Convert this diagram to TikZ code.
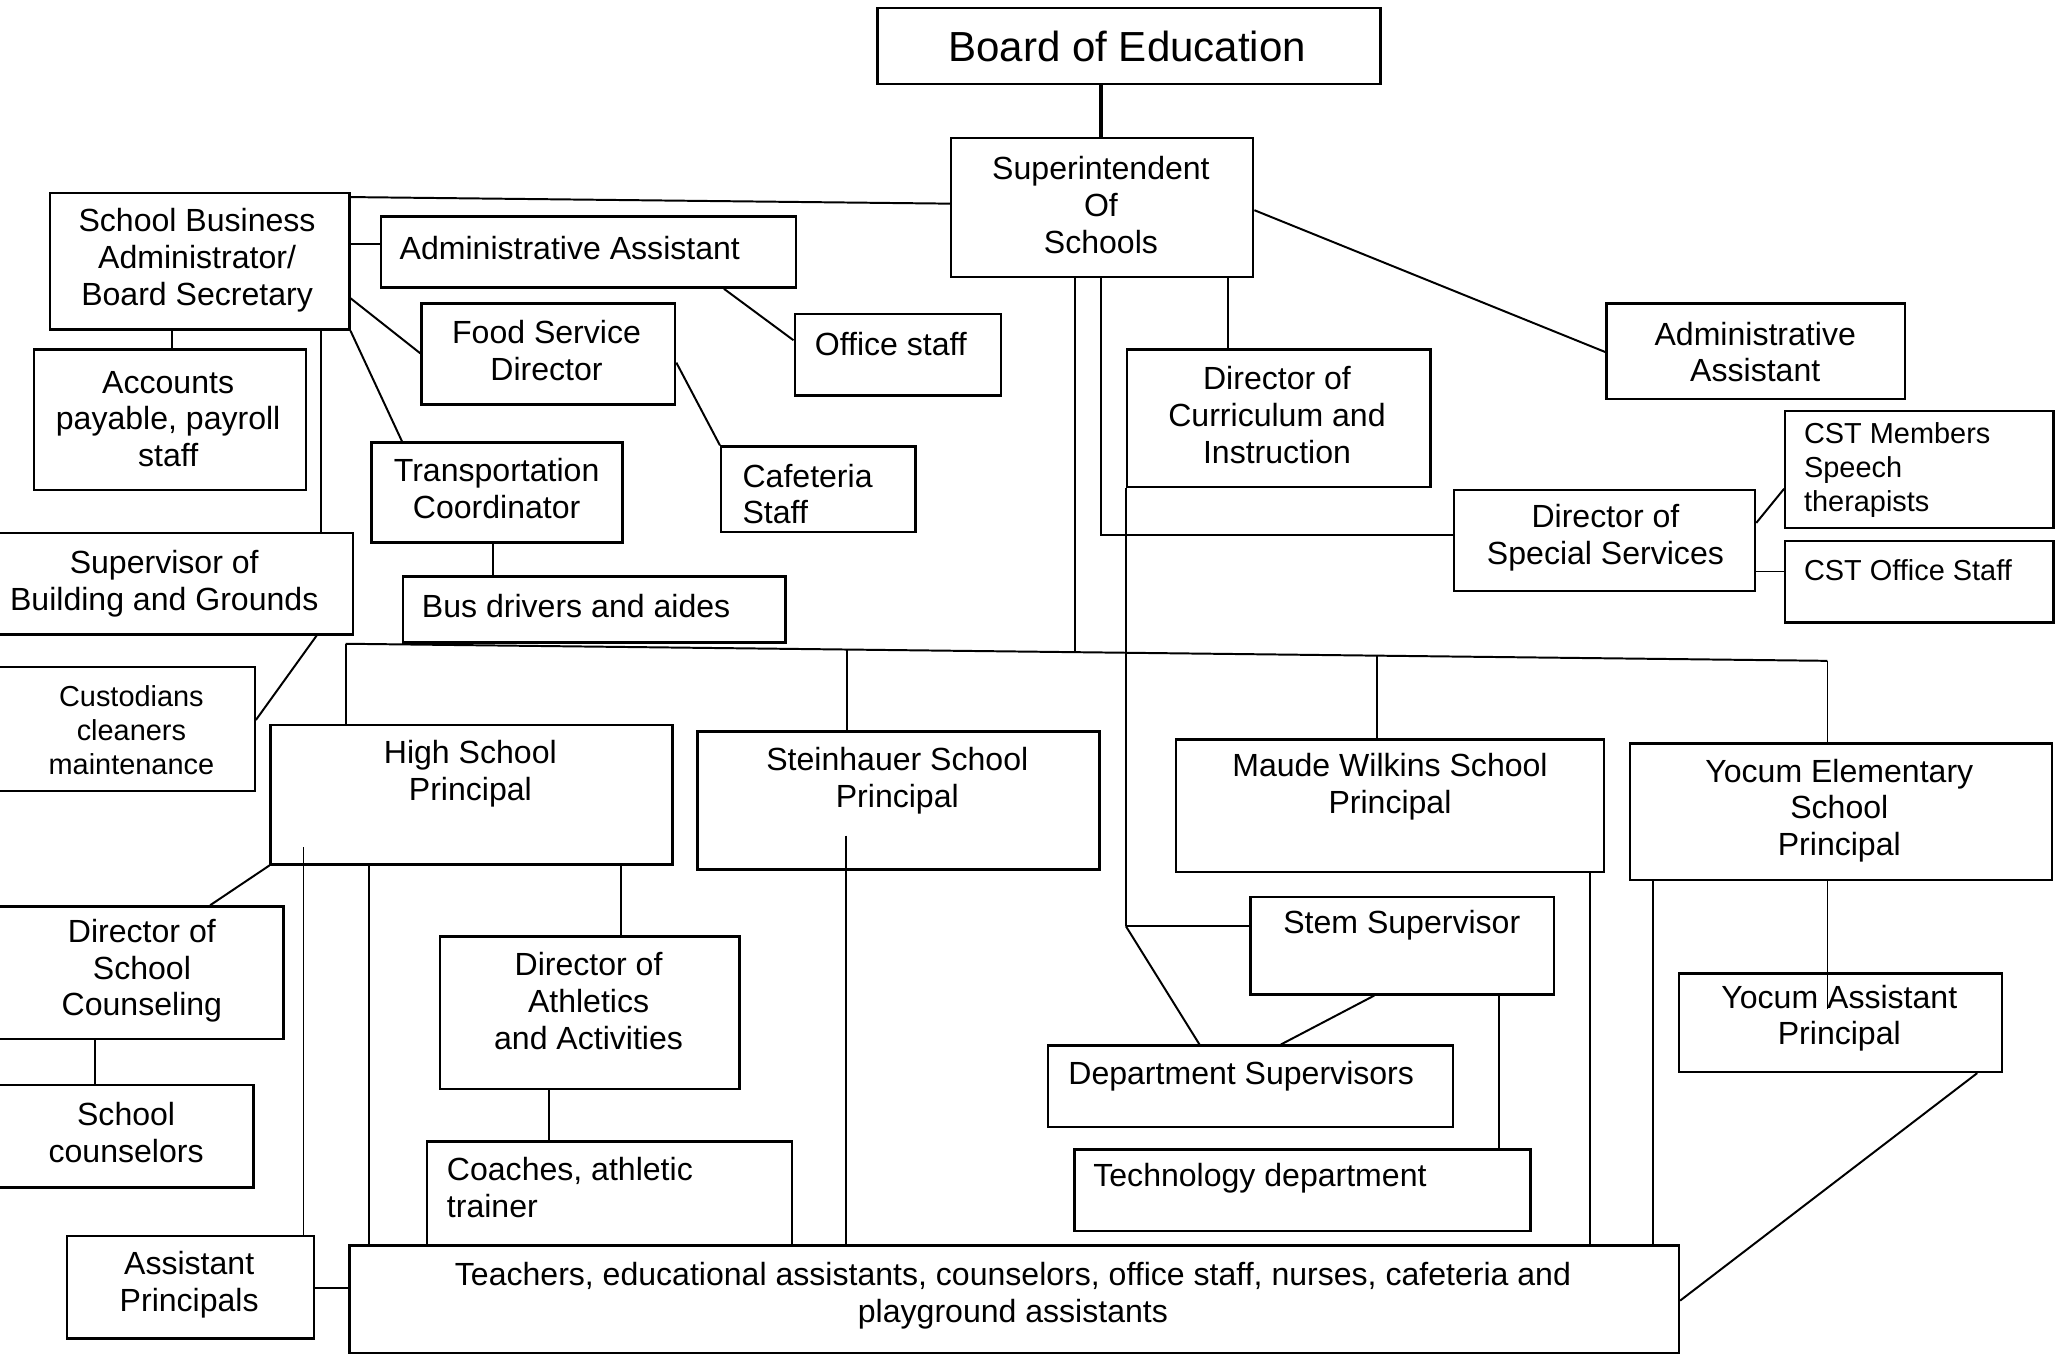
\documentclass[tikz,border=0pt]{standalone}
\usepackage{fontspec}
\setmainfont{Liberation Sans}
\newcommand\mybox[5]{\node[bx, minimum width={#4-(#2)}, minimum height={#5-(#3)}] (#1) at (#2,#3) {};}
\begin{document}
\begin{tikzpicture}[x=1pt,y=-1pt,
 bx/.style={draw=black, line width=1.8pt, inner sep=0pt, anchor=north west},
 tx/.style={inner sep=0pt, align=center, font=\fontsize{24.4}{28}\selectfont},
 tl/.style={tx, align=left, anchor=west},
 sm/.style={font=\fontsize{22}{26}\selectfont},
 ln/.style={line width=1.5pt}]
\fill[white] (0,0) rectangle (1568,1034);
\useasboundingbox (0,0) rectangle (1568,1034);
% boxes
\mybox{board}{667}{5}{1050}{63}
\mybox{sup}{723}{104}{953}{210}
\mybox{sba}{37}{146}{265}{250}
\mybox{aal}{289}{164}{605}{218}
\mybox{fsd}{320}{230}{513}{307}
\mybox{off}{604}{238}{761}{300}
\mybox{acc}{25}{265}{232}{372}
\mybox{trans}{282}{336}{473}{412}
\mybox{caf}{548}{339}{696}{404}
\mybox{sbg}{-6}{405}{268}{482}
\mybox{bus}{306}{438}{597}{488}
\mybox{cust}{-6}{507}{193}{601}
\mybox{dci}{857}{265}{1088}{370}
\mybox{aar}{1222}{230}{1449}{303}
\mybox{cstm}{1358}{312}{1562}{401}
\mybox{dss}{1106}{372}{1335}{449}
\mybox{csto}{1358}{411}{1562}{473}
\mybox{hsp}{205}{551}{511}{657}
\mybox{stp}{530}{556}{836}{661}
\mybox{mwp}{894}{562}{1220}{663}
\mybox{yep}{1240}{565}{1561}{669}
\mybox{dsc}{-6}{689}{215}{790}
\mybox{ath}{334}{712}{562}{828}
\mybox{stem}{951}{682}{1182}{756}
\mybox{yap}{1277}{740}{1523}{815}
\mybox{dept}{797}{795}{1105}{857}
\mybox{scc}{-6}{825}{192}{903}
\mybox{coach}{324}{868}{602}{947}
\mybox{tech}{817}{874}{1164}{936}
\mybox{ap}{50}{940}{238}{1018}
\mybox{teach}{265}{947}{1277}{1029}
% texts
\node[tx, font=\fontsize{32}{38}\selectfont] (t-board) at (858,35) {Board of Education};
\node[tx] (t-sup) at (838,156) {Superintendent\\Of\\Schools};
\node[tx] (t-sba) at (150,198) {School Business\\Administrator/\\Board Secretary};
\node[tl] (t-aal) at (304,189) {Administrative Assistant};
\node[tx] (t-fsd) at (416,267) {Food Service\\Director};
\node[tl] (t-off) at (620,262) {Office staff};
\node[tx] (t-acc) at (128,319) {Accounts\\payable, payroll\\staff};
\node[tx] (t-trans) at (378,372) {Transportation\\Coordinator};
\node[tl] (t-caf) at (565,376) {Cafeteria\\Staff};
\node[tx] (t-sbg) at (125,444) {Supervisor of\\Building and Grounds};
\node[tl] (t-bus) at (321,461) {Bus drivers and aides};
\node[tx, sm] (t-cust) at (100,556) {Custodians\\cleaners\\maintenance};
\node[tx] (t-dci) at (972,316) {Director of\\Curriculum and\\Instruction};
\node[tx] (t-aar) at (1336,268) {Administrative\\Assistant};
\node[tl, sm] (t-cstm) at (1373,358) {CST Members\\Speech\\therapists};
\node[tx] (t-dss) at (1222,409) {Director of\\Special Services};
\node[tl, sm] (t-csto) at (1373,434) {CST Office Staff};
\node[tx] (t-hsp) at (358,589) {High School\\Principal};
\node[tx] (t-stp) at (683,594) {Steinhauer School\\Principal};
\node[tx] (t-mwp) at (1058,599) {Maude Wilkins School\\Principal};
\node[tx] (t-yep) at (1400,617) {Yocum Elementary\\School\\Principal};
\node[tx] (t-dsc) at (108,739) {Director of\\School\\Counseling};
\node[tx] (t-ath) at (448,762) {Director of\\Athletics\\and Activities};
\node[tx] (t-stem) at (1067,704) {Stem Supervisor};
\node[tx] (t-yap) at (1400,775) {Yocum Assistant\\Principal};
\node[tl] (t-dept) at (813,819) {Department Supervisors};
\node[tx] (t-scc) at (96,862) {School\\counselors};
\node[tl] (t-coach) at (340,904) {Coaches, athletic\\trainer};
\node[tl] (t-tech) at (832,897) {Technology department};
\node[tx] (t-ap) at (144,978) {Assistant\\Principals};
\node[tx] (t-teach) at (771,986) {Teachers, educational assistants, counselors, office staff, nurses, cafeteria and\\playground assistants};
% coordinates
\coordinate (b1) at (263,490);
\coordinate (b2) at (645,494);
\coordinate (b3) at (818,496);
\coordinate (b4) at (1048,499);
\coordinate (b5) at (1391,503);
\coordinate (dj) at (857,705);
\coordinate (yin) at (1391,768);
\coordinate (hsin) at (231,645);
\coordinate (stin) at (644,636);
% connectors
\draw[ln, line width=3pt] (board.south -| 838,0) -- (sup.north -| 838,0);
\draw[ln] (sba.east |- 0,150) -- (sup.west |- 0,155);
\draw[ln] (sba.east |- 0,186) -- (aal.west |- 0,186);
\draw[ln] (sba.east |- 0,227) -- (fsd.west |- 0,269);
\draw[ln] (sba.south east) -- (trans.north -| 306,0);
\draw[ln] (sba.south -| 131,0) -- (acc.north -| 131,0);
\draw[ln] (sba.south -| 244,0) -- (sbg.north -| 244,0);
\draw[ln] (aal.south -| 551,0) -- (off.west |- 0,259);
\draw[ln] (fsd.east |- 0,276) -- (caf.north west);
\draw[ln] (trans.south -| 375,0) -- (bus.north -| 375,0);
\draw[ln] (sbg.south -| 241,0) -- (cust.east |- 0,548);
\draw[ln] (sup.east |- 0,160) -- (aar.west |- 0,268);
\draw[ln] (sup.south -| 935,0) -- (dci.north -| 935,0);
\draw[ln] (sup.south -| 838,0) |- (dss.west |- 0,407);
\draw[ln] (sup.south -| 818,0) -- (b3);
\draw[ln] (b1) -- (b5);
\draw[ln] (b1) -- (hsp.north -| b1);
\draw[ln] (b2) -- (stp.north -| b2);
\draw[ln] (b4) -- (mwp.north -| b4);
\draw[ln] (b5) -- (yep.north -| b5);
\draw[ln] (dci.south west) -- (dj);
\draw[ln] (dj) -- (stem.west |- dj);
\draw[ln] (dj) -- (dept.north -| 913,0);
\draw[ln] (stem.south -| 1046,0) -- (dept.north -| 975,0);
\draw[ln] (stem.south -| 1141,0) -- (tech.north -| 1141,0);
\draw[ln] (mwp.south -| 1210,0) -- (teach.north -| 1210,0);
\draw[ln] (yep.south -| 1258,0) -- (teach.north -| 1258,0);
\draw[ln] (yep.south -| 1391,0) -- (yin);
\draw[ln] (yap.south -| 1505,0) -- (teach.east |- 0,990);
\draw[ln] (hsp.south west) -- (dsc.north -| 160,0);
\draw[ln] (hsin) -- (ap.north -| hsin);
\draw[ln] (hsp.south -| 281,0) -- (teach.north -| 281,0);
\draw[ln] (hsp.south -| 473,0) -- (ath.north -| 473,0);
\draw[ln] (ath.south -| 418,0) -- (coach.north -| 418,0);
\draw[ln] (stin) -- (teach.north -| stin);
\draw[ln] (dsc.south -| 72,0) -- (scc.north -| 72,0);
\draw[ln] (ap.east |- 0,980) -- (teach.west |- 0,980);
\draw[ln] (dss.east |- 0,398) -- (cstm.west |- 0,372);
\draw[ln] (dss.east |- 0,435) -- (csto.west |- 0,435);
\end{tikzpicture}
\end{document}
